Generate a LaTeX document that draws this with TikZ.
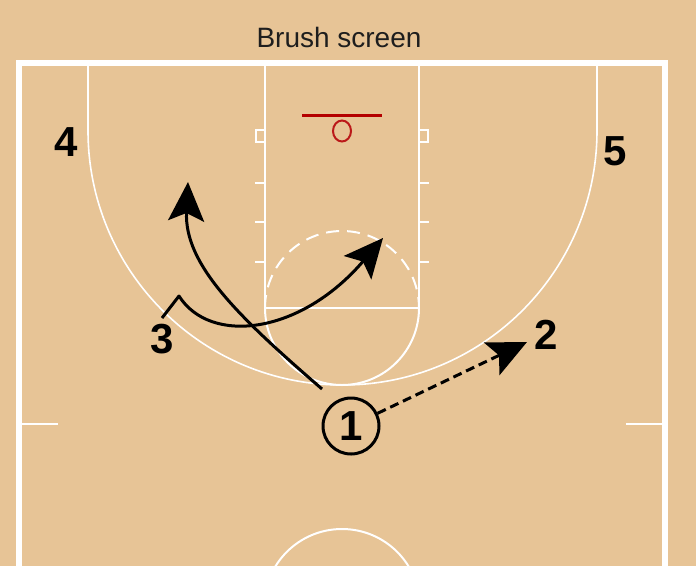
\documentclass[tikz,border=0pt]{standalone}
\usepackage{fontspec}
\setmainfont{Liberation Sans}
\usetikzlibrary{arrows.meta}
\definecolor{wood}{RGB}{231,196,150}
\definecolor{rimred}{RGB}{180,0,0}
\definecolor{titlegray}{RGB}{30,30,30}
\begin{document}
\begin{tikzpicture}[x=1pt,y=-1pt,
  court/.style={white,line width=2},
  border/.style={white,line width=6},
  move/.style={black,line width=3,line join=round,-{Stealth[length=39pt,width=36pt,inset=8pt]}},
  pass/.style={move,dash pattern=on 9pt off 5pt},
  player/.style={font=\fontsize{42}{42}\selectfont\bfseries,inner sep=0},
]
\fill[wood] (0,0) rectangle (696,566);
\useasboundingbox (0,0) rectangle (696,566);
\begin{scope}
\clip (0,0) rectangle (696,566);
% court border
\draw[border] (19,600) -- (19,63) -- (665,63) -- (665,600);
% lane
\draw[court,line width=2.5] (265,63) -- (265,308) -- (419,308) -- (419,63);
% free throw circle
\draw[court] (265,308) arc[start angle=180,end angle=0,radius=77];
\draw[court,dash pattern=on 13pt off 8pt] (265,308) arc[start angle=180,end angle=360,radius=77];
% three point line
\draw[court,line width=1.6] (88,63) -- (88,130.5) arc[start angle=180,end angle=0,radius=254.5] -- (597,63);
% blocks and hash marks
\draw[court] (265,130) -- (256,130) -- (256,142) -- (265,142);
\draw[court] (419,130) -- (428,130) -- (428,142) -- (419,142);
\foreach \yy in {183,222,262}{
  \draw[court] (255,\yy) -- (265,\yy);
  \draw[court] (419,\yy) -- (429,\yy);
}
% side marks
\draw[court] (19,424) -- (58,424);
\draw[court] (626,424) -- (665,424);
% center circle
\draw[court] (342,607) circle[radius=78];
% rim
\draw[rimred,line width=3] (302,115) -- (382,115);
\draw[rimred!90!white,line width=2] (342,131) ellipse[x radius=9,y radius=10.5];
\end{scope}
% title
\node[font=\fontsize{28}{28}\selectfont,text=titlegray,inner sep=0] (title) at (339,37) {Brush screen};
% players
\node[player] (n4) at (66,142) {4};
\node[player] (n5) at (615,151) {5};
\node[player] (n3) at (162,339) {3};
\node[player] (n2) at (546,335) {2};
\node[player,circle,draw,line width=3,minimum size=56] (p1) at (351,426) {1};
% movement
\coordinate (t2) at (527,342);
\draw[pass] (p1) -- (t2);
\coordinate (s1) at (322,389);
\coordinate (e1) at (188,182);
\draw[move] (s1) .. controls (240,318) and (184,265) .. (e1);
\coordinate (s3) at (162,318);
\coordinate (k3) at (179,296);
\coordinate (e3) at (383,238);
\draw[move] (s3) -- (k3) .. controls (210,345) and (300,335) .. (e3);
\end{tikzpicture}
\end{document}
